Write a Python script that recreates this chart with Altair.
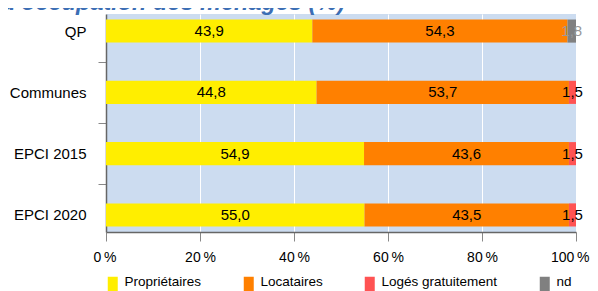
import altair as alt
import pandas as pd

categories = ["QP", "Communes", "EPCI 2015", "EPCI 2020"]
statuts = ["Propriétaires", "Locataires", "Logés gratuitement", "nd"]
proprietaires = [43.9, 44.8, 54.9, 55.0]
locataires = [54.3, 53.7, 43.6, 43.5]
loges_gratuitement = [None, 1.5, 1.5, 1.5]
non_renseigne = [1.8, None, None, None]
colors = ["#ffee00", "#ff8000", "#ff5353", "#808080"]
x_ticks = [0, 20, 40, 60, 80, 100]
title_text = "Statut d'occupation des ménages (%)"

series = [proprietaires, locataires, loges_gratuitement, non_renseigne]
rows = []
for s_idx, (statut, vals) in enumerate(zip(statuts, series)):
    for cat, v in zip(categories, vals):
        if v is not None:
            rows.append({"cat": cat, "statut": statut, "ordre": s_idx, "valeur": v})
df = pd.DataFrame(rows)

FONT = "Liberation Sans"

base = alt.Chart(df).transform_stack(
    stack="valeur",
    groupby=["cat"],
    as_=["x0", "x1"],
    sort=[alt.SortField("ordre", order="ascending")],
).transform_calculate(
    xm="(datum.x0 + datum.x1) / 2",
    label="replace(format(datum.valeur, '.1f'), '.', ',')",
)

y_enc = alt.Y(
    "cat:N",
    sort=categories,
    title=None,
    scale=alt.Scale(paddingInner=0.623, paddingOuter=0.09),
    axis=alt.Axis(
        labelFontSize=15,
        labelColor="black",
        labelFont=FONT,
        labelPadding=12,
        tickSize=8,
        tickColor="#888888",
        tickOffset=30.6,
        labelOffset=-30.6,
        tickOpacity={"condition": {"test": "datum.value === 'EPCI 2020'", "value": 0}, "value": 1},
        domainColor="#666666",
        domainWidth=1.5,
        grid=False,
    ),
)

x_scale = alt.Scale(domain=[0, 100], nice=False)

bars = base.mark_bar().encode(
    x=alt.X(
        "x0:Q",
        scale=x_scale,
        title=None,
        axis=alt.Axis(
            values=x_ticks,
            labelExpr="datum.value + '\u202f%'",
            labelFontSize=14,
            labelColor="black",
            labelFont=FONT,
            labelFlush=True,
            labelFlushOffset=13,
            labelPadding=9,
            tickSize=9,
            tickColor="#888888",
            domainColor="#666666",
            domainWidth=1.5,
            grid=True,
            gridColor="white",
            gridWidth=1,
        ),
    ),
    x2="x1:Q",
    y=y_enc,
    color=alt.Color(
        "statut:N",
        scale=alt.Scale(domain=statuts, range=colors),
        legend=alt.Legend(
            orient="none",
            legendX=0,
            legendY=261,
            direction="horizontal",
            gridAlign="none",
            title=None,
            symbolType="M-1,-1H1V2H-1Z",
            symbolSize=100,
            symbolStrokeWidth=0,
            labelFontSize=13.5,
            labelFont=FONT,
            labelColor="black",
            labelOffset=5,
            columnPadding=40,
            padding=0,
        ),
    ),
)

texts = base.mark_text(fontSize=15, font=FONT, baseline="middle", align="center").encode(
    x=alt.X("xm:Q", scale=x_scale),
    y=y_enc,
    text="label:N",
    color=alt.condition("datum.statut === 'nd'", alt.value("#999999"), alt.value("black")),
)

chart = alt.layer(bars, texts).properties(
    width=470,
    height=218,
    autosize="none",
    padding={"left": 98, "top": 6, "right": 14, "bottom": 59},
    title=alt.TitleParams(
        title_text,
        anchor="end",
        frame="group",
        dx=-231,
        fontSize=23.5,
        fontWeight="bold",
        fontStyle="italic",
        font=FONT,
        color="#3c6eb4",
        baseline="alphabetic",
        offset=-19,
    ),
).configure_view(fill="#ccdcf0", strokeWidth=0)

chart.save("out.html", embed_options={"renderer": "svg", "actions": False})
